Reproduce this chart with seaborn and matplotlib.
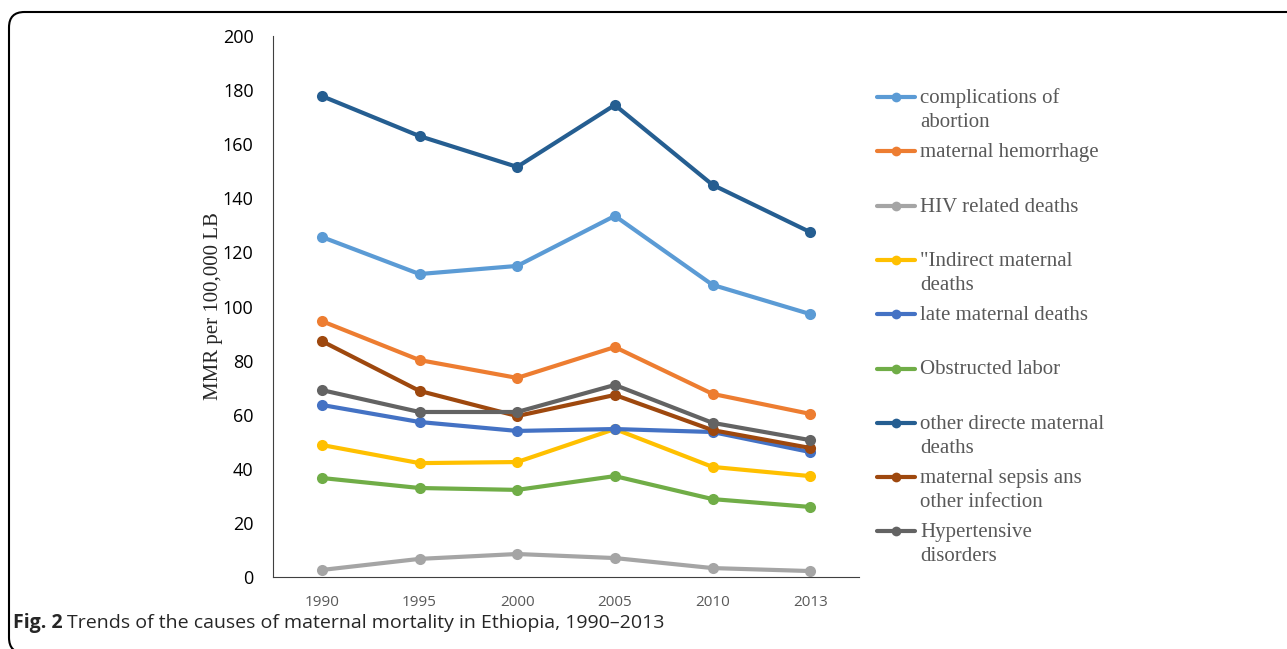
import pandas as pd
import matplotlib.pyplot as plt
import seaborn as sns
from matplotlib.lines import Line2D
from matplotlib.patches import FancyBboxPatch

# Data (MMR per 100,000 live births)
years = ['1990', '1995', '2000', '2005', '2010', '2013']
causes = ['complications of abortion', 'maternal hemorrhage', 'HIV related deaths',
          '"Indirect maternal deaths', 'late maternal deaths', 'Obstructed labor',
          'other directe maternal deaths', 'maternal sepsis ans other infection',
          'Hypertensive disorders']
legend_labels = ['complications of\nabortion', 'maternal hemorrhage', 'HIV related deaths',
                 '"Indirect maternal\ndeaths', 'late maternal deaths', 'Obstructed labor',
                 'other directe maternal\ndeaths', 'maternal sepsis ans\nother infection',
                 'Hypertensive\ndisorders']
abortion = [125.7, 112.0, 115.0, 133.5, 108.0, 97.2]
hemorrhage = [94.6, 80.2, 73.6, 85.0, 67.7, 60.3]
hiv = [2.6, 6.7, 8.5, 7.0, 3.3, 2.2]
indirect = [48.8, 42.1, 42.5, 54.7, 40.7, 37.3]
late = [63.6, 57.3, 54.0, 54.7, 53.6, 46.2]
obstructed = [36.6, 32.9, 32.2, 37.3, 28.8, 25.9]
other_direct = [177.8, 163.0, 151.6, 174.5, 145.0, 127.5]
sepsis = [87.2, 68.8, 59.5, 67.3, 54.3, 47.7]
hypertensive = [69.1, 61.0, 61.0, 71.0, 57.0, 50.6]
series = [abortion, hemorrhage, hiv, indirect, late, obstructed, other_direct, sepsis, hypertensive]
colors = ['#5B9BD5', '#ED7D31', '#A5A5A5', '#FFC000', '#4472C4', '#70AD47',
          '#255E91', '#9E480E', '#636363']

rows = []
for cause, vals in zip(causes, series):
    for yr, v in zip(years, vals):
        rows.append({'year': yr, 'cause': cause, 'mmr': v})
df = pd.DataFrame(rows)

sns.set_style('white')
fig = plt.figure(figsize=(12.87, 6.49), dpi=100)
W, H = 1287, 649
ax = fig.add_axes([273 / W, 1 - 577 / H, 586 / W, 541 / H])

sns.lineplot(data=df, x='year', y='mmr', hue='cause', palette=colors, marker='o',
             markersize=8, markeredgewidth=0, linewidth=3, legend=False, ax=ax, sort=False)

ax.set_xlim(-0.5, 5.5)
ax.set_ylim(0, 200)
ax.set_yticks(range(0, 201, 20))
ax.set_xticks(range(len(years)))
ax.set_xticklabels(years)
ax.set_xticks([i + 0.5 for i in range(len(years))], minor=True)
ax.tick_params(axis='x', which='major', length=0, pad=13, labelsize=11, labelcolor='#595959')
ax.tick_params(axis='x', which='minor', direction='in', length=5, width=1, color='#404040')
ax.tick_params(axis='y', length=0, pad=14, labelsize=13, labelcolor='black')
for lab in ax.get_xticklabels() + ax.get_yticklabels():
    lab.set_fontfamily('Open Sans')
sns.despine(ax=ax)
ax.spines['left'].set_color('#404040')
ax.spines['bottom'].set_color('#404040')
ax.set_xlabel('')
ax.set_ylabel('MMR per 100,000 LB', fontsize=15, family='Liberation Serif', labelpad=0)

# Legend drawn as rows with a fixed spacing, handle level with the first text line
for i, (lab, col) in enumerate(zip(legend_labels, colors)):
    y = 1 - (97 + 54.3 * i) / H
    fig.add_artist(Line2D([877 / W, 915 / W], [y, y], color=col, lw=3,
                          transform=fig.transFigure))
    fig.add_artist(Line2D([896 / W], [y], color=col, marker='o', markersize=7,
                          markeredgewidth=0, transform=fig.transFigure))
    for k, line in enumerate(lab.split('\n')):
        fig.text(920 / W, y - (6 + 24 * k) / H, line, ha='left', va='baseline', fontsize=15,
                 family='Liberation Serif', color='#595959')

# Caption
fig.text(13 / W, 1 - 628 / H, 'Fig. 2', fontsize=14, weight='bold', family='Open Sans',
         va='baseline', ha='left')
fig.text(67 / W, 1 - 628 / H, 'Trends of the causes of maternal mortality in Ethiopia, 1990\u20132013',
         fontsize=14, family='Open Sans', va='baseline', ha='left')

# Frame around the figure (bottom edge falls just outside the image)
frame = FancyBboxPatch((9 / W, -4 / H), 1.2, 1 - 12 / H + 4 / H,
                       boxstyle='round,pad=0,rounding_size=0.012',
                       transform=fig.transFigure, fill=False, lw=1.5, ec='black',
                       mutation_aspect=W / H)
fig.add_artist(frame)

fig.savefig('out.png', dpi=100)
